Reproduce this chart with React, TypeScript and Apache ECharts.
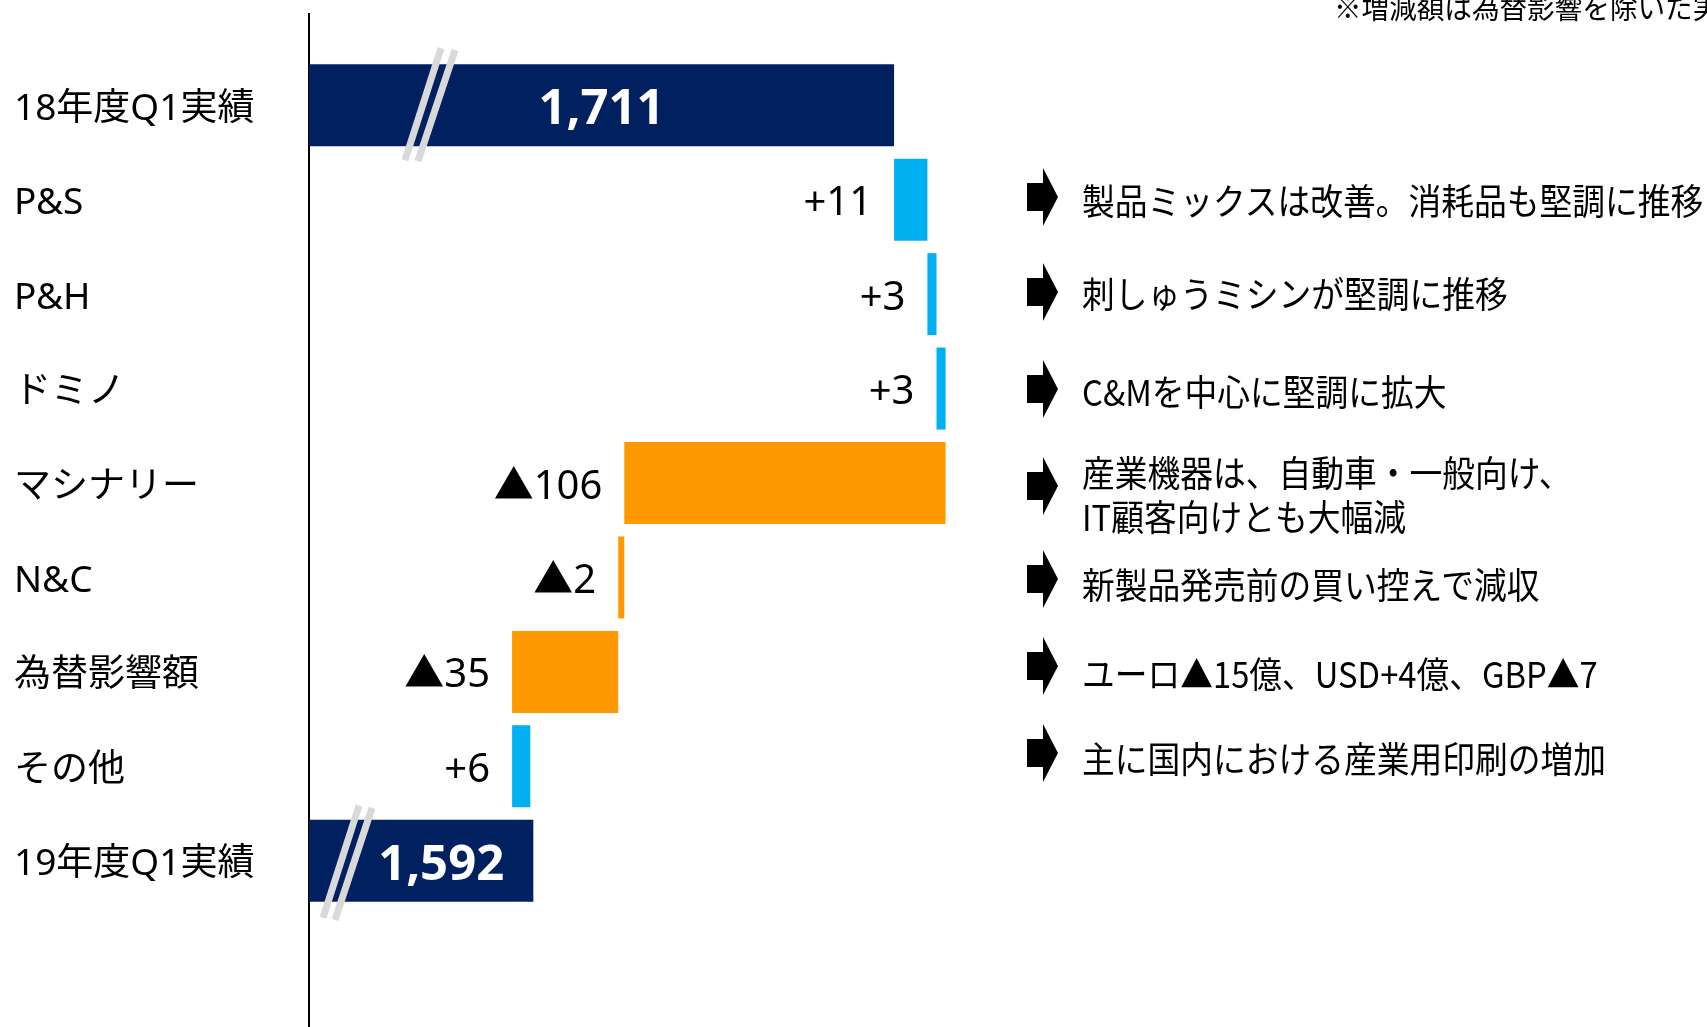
import React, { useEffect, useRef } from 'react';
import * as echarts from 'echarts';

// ---- data ----
const categories = ['18年度Q1実績', 'P&S', 'P&H', 'ドミノ', 'マシナリー', 'N&C', '為替影響額', 'その他', '19年度Q1実績'];
const startTotal = 1711;
const endTotal = 1592;
const deltas = [11, 3, 3, -106, -2, -35, 6];
const noteTexts = [
  ['製品ミックスは改善。消耗品も堅調に推移'],
  ['刺しゅうミシンが堅調に推移'],
  ['C&Mを中心に堅調に拡大'],
  ['産業機器は、自動車・一般向け、', 'IT顧客向けとも大幅減'],
  ['新製品発売前の買い控えで減収'],
  ['ユーロ▲15億、USD+4億、GBP▲7'],
  ['主に国内における産業用印刷の増加'],
];
const footnote = '※増減額は為替影響を除いた実';

// ---- layout / style ----
const X_MIN = 1518;
const X_MAX = 1900;
const NAVY = '#002060';
const UP = '#00B0F0';
const DOWN = '#FF9900';
const FONT = "'Noto Sans', 'Noto Sans CJK JP', sans-serif";
const CJK = "'Noto Sans CJK JP', 'Noto Sans', sans-serif";
const arrowY = [197, 292, 389, 486, 579, 666, 753];
const textY = [[199], [292], [390], [471, 515], [583], [672], [757]];
const ARROW_L = 1027;
const ARROW_N = 1043;
const ARROW_R = 1058;
const TEXT_X = 1082;

export default function App() {
  const ref = useRef<HTMLDivElement>(null);

  useEffect(() => {
    document.body.style.margin = '0';
    const el = ref.current!;
    const chart = echarts.init(el, undefined, { renderer: 'svg' });

    const baseData: number[] = [];
    const valData: any[] = [];
    baseData.push(0);
    valData.push({
      value: startTotal,
      itemStyle: { color: NAVY },
      label: {
        show: true, position: 'inside', color: '#fff', fontSize: 49, fontWeight: 'bold',
        fontFamily: FONT, formatter: startTotal.toLocaleString('en-US'),
      },
    });
    let running = startTotal;
    deltas.forEach((d) => {
      const next = running + d;
      baseData.push(Math.min(running, next));
      valData.push({
        value: Math.abs(d),
        itemStyle: { color: d >= 0 ? UP : DOWN },
        label: {
          show: true, position: 'left', distance: 22, color: '#000', fontSize: 40,
          fontFamily: FONT, formatter: d >= 0 ? '+' + d : '▲' + Math.abs(d),
        },
      });
      running = next;
    });
    baseData.push(0);
    valData.push({
      value: endTotal,
      itemStyle: { color: NAVY },
      label: {
        show: true, position: 'inside', color: '#fff', fontSize: 49, fontWeight: 'bold',
        fontFamily: FONT, offset: [20, 0], formatter: endTotal.toLocaleString('en-US'),
      },
    });

    chart.setOption({
      animation: false,
      grid: { left: 309, right: 240, top: 58, bottom: 119, containLabel: false },
      xAxis: { type: 'value', min: X_MIN, max: X_MAX, show: false },
      yAxis: {
        type: 'category',
        data: categories,
        inverse: true,
        axisLine: { show: false },
        axisTick: { show: false },
        splitLine: { show: false },
        axisLabel: { margin: 295, align: 'left', fontSize: 37, color: '#000', fontFamily: FONT },
      },
      series: [
        {
          type: 'bar', stack: 'w', data: baseData, barWidth: 82,
          itemStyle: { color: 'transparent' }, silent: true,
        },
        {
          type: 'bar', stack: 'w', data: valData, barWidth: 82,
        },
      ],
    });

    const ax = chart.convertToPixel({ xAxisIndex: 0 }, X_MIN) as number;
    const cy0 = chart.convertToPixel({ yAxisIndex: 0 }, categories[0]) as number;
    const cy8 = chart.convertToPixel({ yAxisIndex: 0 }, categories[8]) as number;

    const graphics: any[] = [];
    graphics.push({
      type: 'line', z: 0, silent: true,
      shape: { x1: ax, y1: 13, x2: ax, y2: 1027 },
      style: { stroke: '#000', lineWidth: 2 },
    });
    const breakLine = (x1: number, y1: number, x2: number, y2: number) => ({
      type: 'line', z: 100, silent: true,
      shape: { x1, y1, x2, y2 },
      style: { stroke: '#D9D9D9', lineWidth: 7 },
    });
    graphics.push(breakLine(ax + 96, cy0 + 55, ax + 132, cy0 - 57));
    graphics.push(breakLine(ax + 109, cy0 + 56, ax + 146, cy0 - 55));
    graphics.push(breakLine(ax + 14, cy8 + 57, ax + 50, cy8 - 55));
    graphics.push(breakLine(ax + 26, cy8 + 59, ax + 63, cy8 - 53));

    arrowY.forEach((y) => {
      graphics.push({
        type: 'polygon', z: 50, silent: true,
        shape: {
          points: [
            [ARROW_L, y - 14], [ARROW_N, y - 14], [ARROW_N, y - 29], [ARROW_R, y],
            [ARROW_N, y + 29], [ARROW_N, y + 14], [ARROW_L, y + 14],
          ],
        },
        style: { fill: '#000' },
      });
    });
    noteTexts.forEach((lines, i) => {
      lines.forEach((t, j) => {
        graphics.push({
          type: 'text', z: 50, silent: true,
          x: TEXT_X, y: textY[i][j], scaleX: 0.91,
          style: { text: t, x: 0, y: 0, fontSize: 36, fontFamily: CJK, fill: '#000', verticalAlign: 'middle', align: 'left' },
        });
      });
    });
    graphics.push({
      type: 'text', z: 50, silent: true,
      x: 1334, y: 20, scaleX: 0.92,
      style: { text: footnote, x: 0, y: 0, fontSize: 30, fontFamily: CJK, fill: '#000', verticalAlign: 'bottom', align: 'left' },
    });

    chart.setOption({ graphic: { elements: graphics } });

    return () => chart.dispose();
  }, []);

  return <div ref={ref} style={{ position: 'fixed', left: 0, top: 0, width: 1707, height: 1027 }} />;
}
